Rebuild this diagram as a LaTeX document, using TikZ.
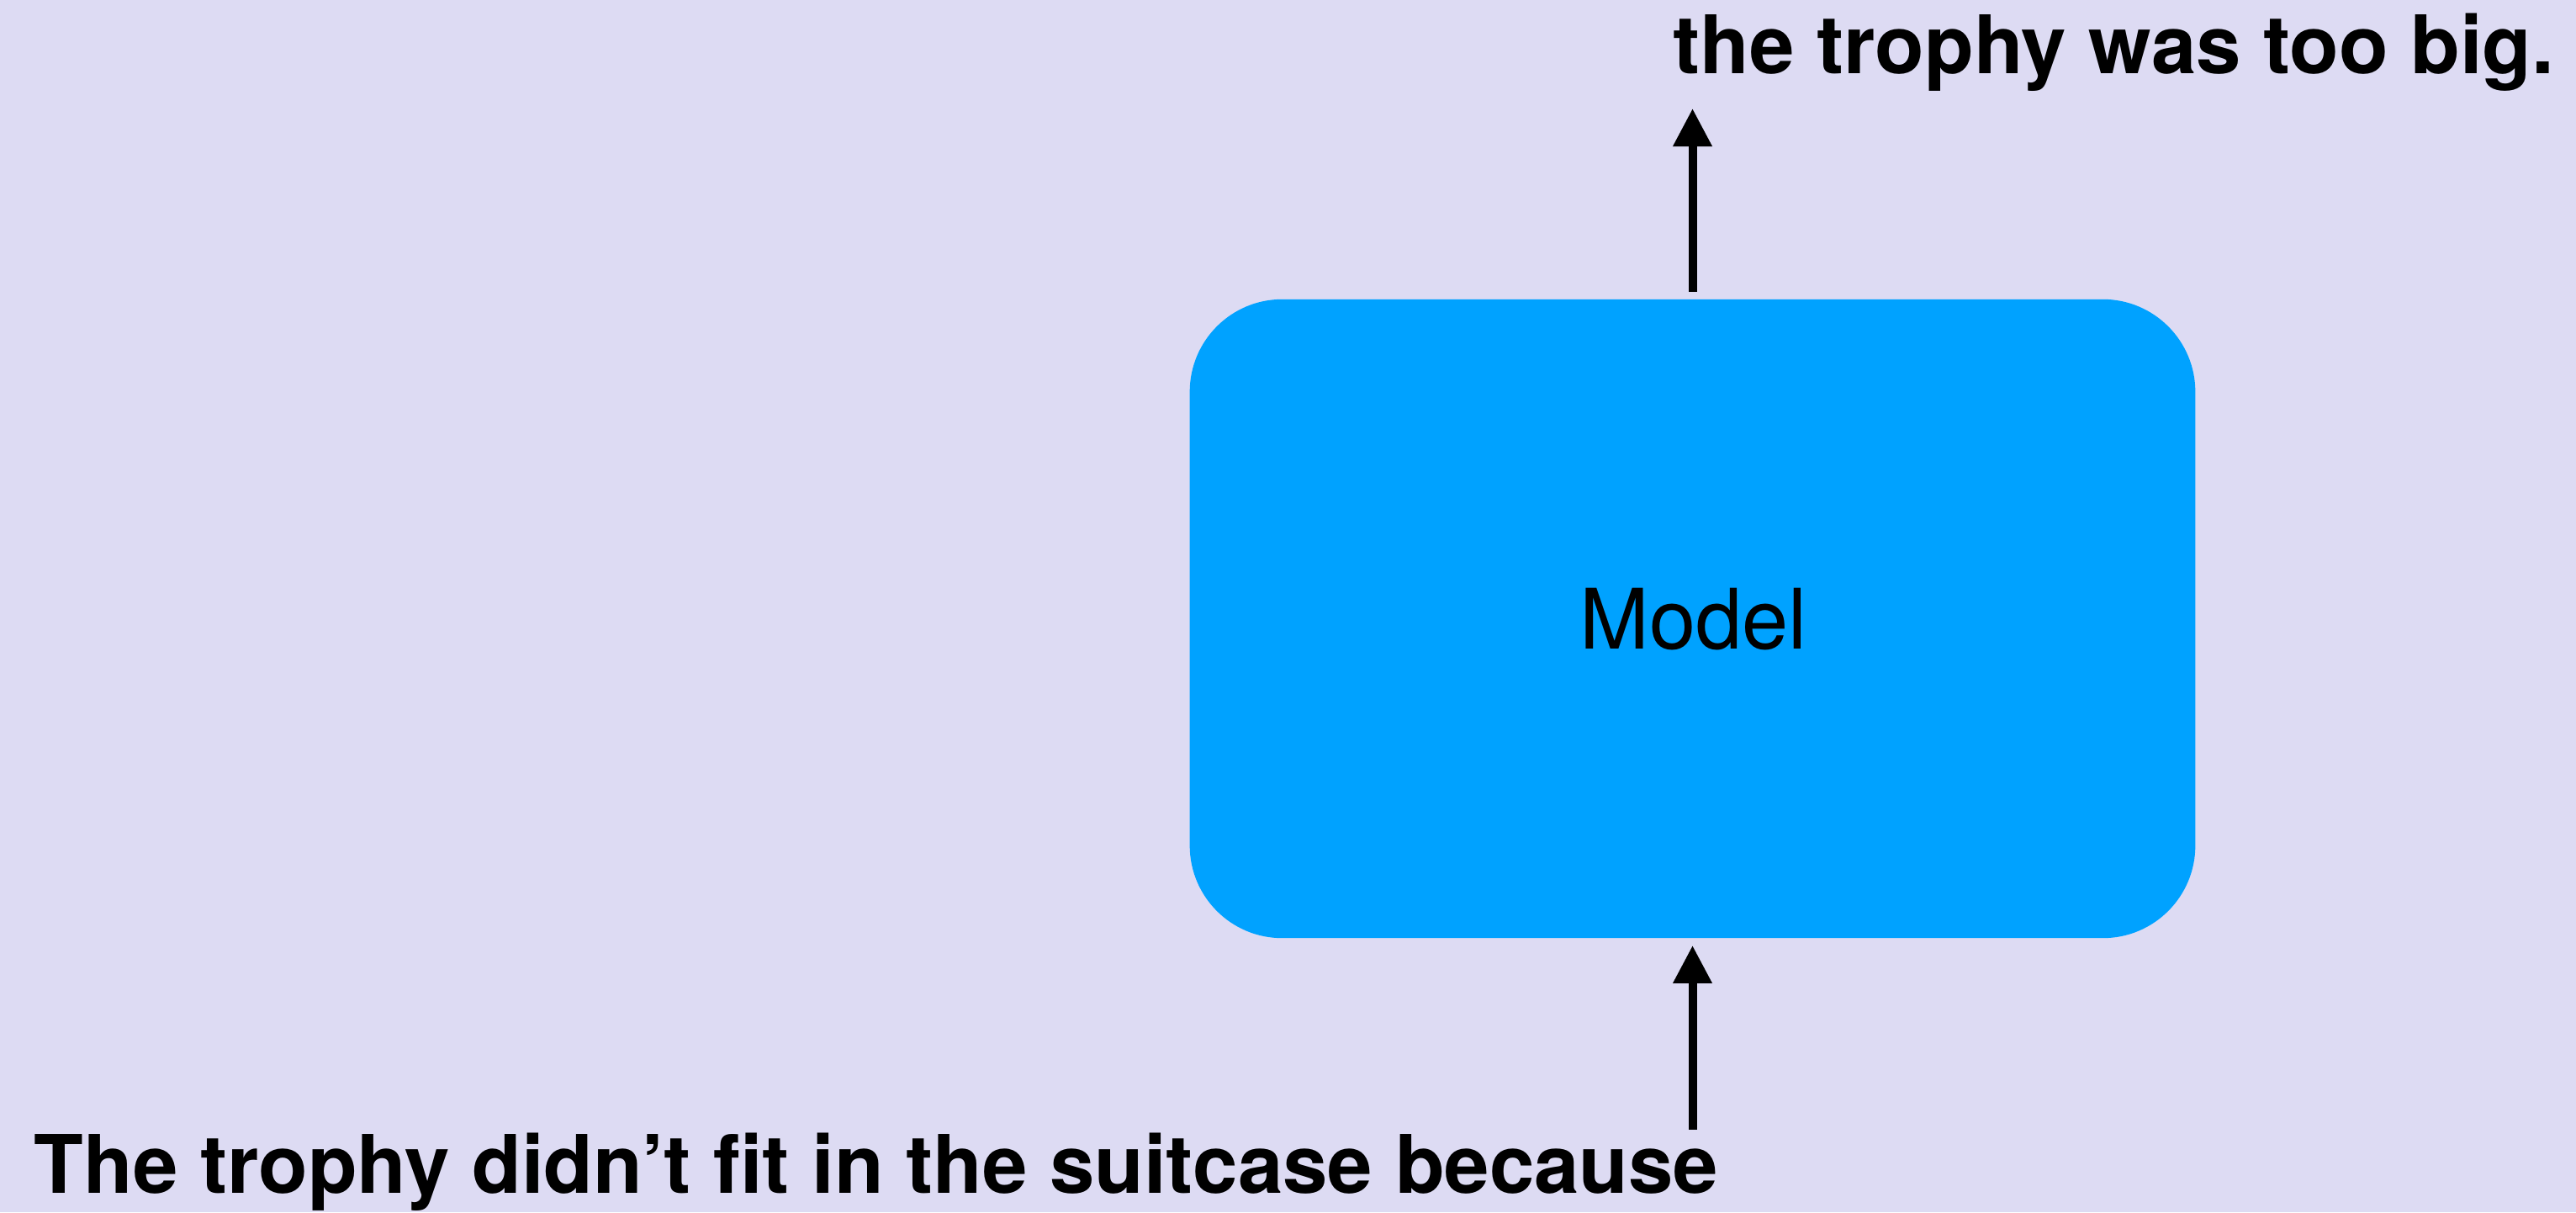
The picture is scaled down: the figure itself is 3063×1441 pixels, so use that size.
\documentclass[tikz,border=0pt]{standalone}
\usepackage{fontspec}
\setmainfont{TeX Gyre Heros}
\usetikzlibrary{arrows.meta}
\definecolor{bgc}{HTML}{DDDBF3}
\definecolor{boxc}{HTML}{00A2FF}
\tikzset{
  modelbox/.style={fill=boxc, draw=none, rounded corners=1.1cm, minimum width=11.95cm, minimum height=7.59cm, inner sep=0pt},
  txt/.style={inner sep=0pt, font=\fontsize{27.3}{32}\selectfont\bfseries},
  arr/.style={line width=0.1cm, -{Triangle[length=0.45cm, width=0.44cm]}}
}
\begin{document}
\begin{tikzpicture}[x=0.01cm,y=0.01cm]
\fill[bgc] (0,0) rectangle (3063,1441);
\useasboundingbox (0,0) rectangle (3063,1441);
\node[modelbox] (model) at (2012.5,705.5) {};
\node[inner sep=0pt, font=\fontsize{28.2}{32}\selectfont, anchor=base] (lbl) at (2013.5,670) {Model};
\node[txt, anchor=base west] (out) at (1989,1353) {the trophy was too big.};
\node[txt, anchor=base west] (in) at (40,23) {The trophy didn’t fit in the suitcase because};
\coordinate (outtip) at (2012.5,1312);
\coordinate (inbase) at (2012.5,98);
\draw[arr, shorten <=0.08cm] (model.north) -- (outtip);
\draw[arr, shorten >=0.08cm] (inbase) -- (model.south);
\end{tikzpicture}
\end{document}
